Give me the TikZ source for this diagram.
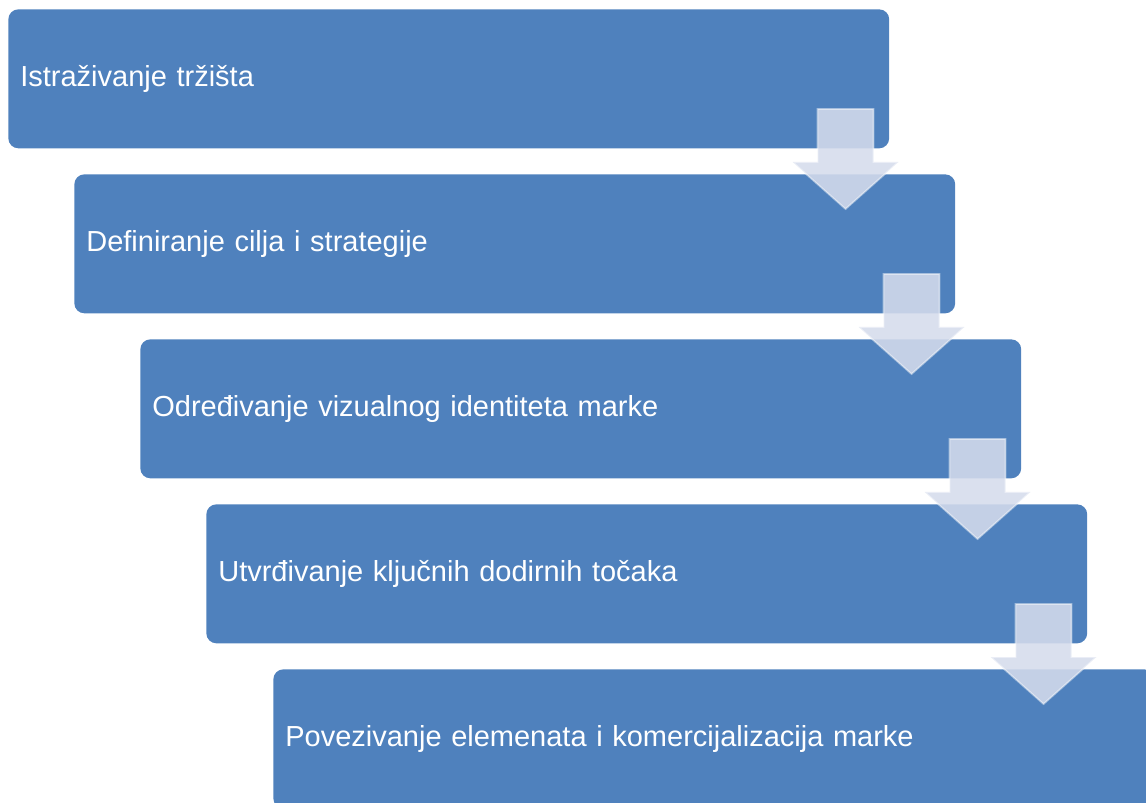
\documentclass[tikz,border=0pt]{standalone}
\usepackage{fontspec}
\setmainfont{Liberation Sans}
\usepackage{pgf,tikz}
\definecolor{qqwwbb}{rgb}{0.31,0.506,0.741}
\definecolor{ccddee}{rgb}{0.835,0.863,0.925}

\begin{document}
\begin{tikzpicture}[x=0.02cm,y=-0.02cm,
	korak/.style={fill=qqwwbb,rounded corners=0.2cm,text=white,anchor=north west,
		minimum width=17.62cm,minimum height=2.78cm,text width=17.14cm,inner xsep=0.24cm,
		align=left,font=\fontsize{16.5}{20}\selectfont},
	strelica/.style={fill=ccddee,fill opacity=0.88,draw=white,draw opacity=0.45,line width=1pt}]
		\clip (0,0) rectangle (1146,803);
		\node[korak] (s1) at (8,9) {Istraživanje tržišta};
		\node[korak] (s2) at (74,174) {Definiranje cilja i strategije};
		\node[korak] (s3) at (140,339) {Određivanje vizualnog identiteta marke};
		\node[korak] (s4) at (206,504) {Utvrđivanje ključnih dodirnih točaka};
		\node[korak] (s5) at (273,669) {Povezivanje elemenata i komercijalizacija marke};
		\foreach \a in {1,...,4} {
			\begin{scope}[shift={(s\a.north east)}]
				\draw[strelica] (-72,100) -- (-16,100) -- (-16,153) -- (9,153) -- (-44,200) -- (-97,153) -- (-72,153) -- cycle;
			\end{scope}
		}
\end{tikzpicture}
\end{document}
